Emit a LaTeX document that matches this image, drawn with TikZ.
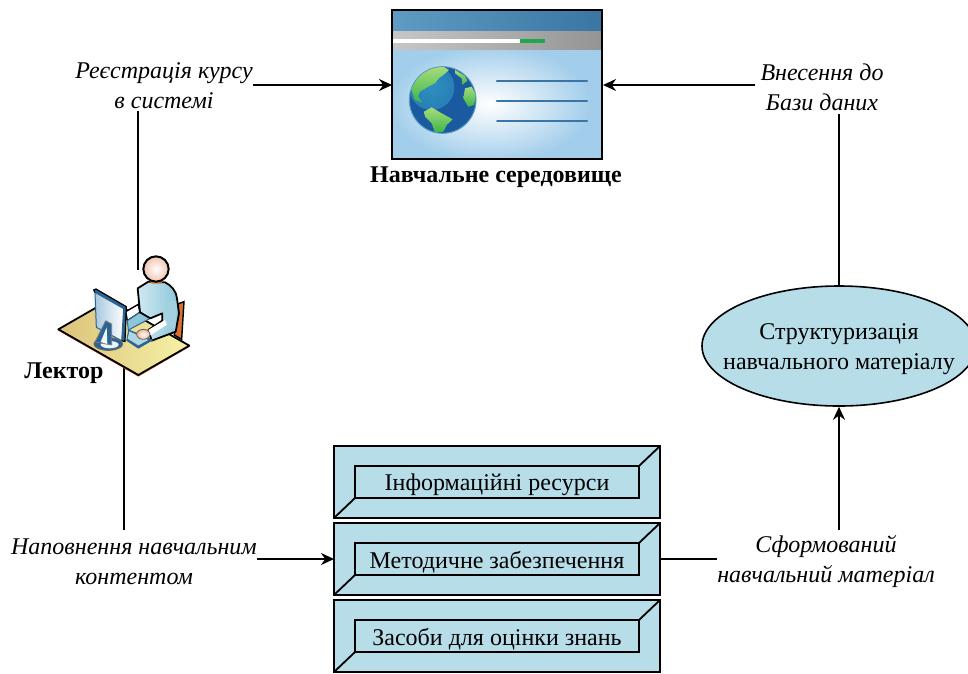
\documentclass[tikz,border=0pt]{standalone}
\usepackage{fontspec}
\setmainfont{Liberation Serif}
\usetikzlibrary{arrows.meta,shapes.geometric,calc}
\definecolor{fillblue}{HTML}{B7DDE8}
\definecolor{barblue}{HTML}{3B75A3}
\definecolor{barblueL}{HTML}{5E9CC3}
\definecolor{skyblue}{HTML}{A3CEEB}
\definecolor{oceanblue}{HTML}{1A5AA0}
\definecolor{teal2}{HTML}{2E8FBF}
\definecolor{landgreen}{HTML}{A6DC7C}
\definecolor{landdark}{HTML}{3DB54A}
\definecolor{deskL}{HTML}{DCC27A}
\definecolor{deskR}{HTML}{F6F2A6}
\definecolor{shirtL}{HTML}{CFE9F2}
\definecolor{shirtD}{HTML}{8CC6D8}
\definecolor{monblue}{HTML}{2A6496}
\definecolor{chair}{HTML}{D9702F}
\definecolor{skin}{HTML}{EDB69A}
\definecolor{progress}{HTML}{22A84C}
\tikzset{
  x=1pt,y=-1pt,
  lab/.style={font=\fontsize{24}{30}\selectfont\itshape,align=center,inner sep=0pt},
  plain/.style={font=\fontsize{24}{30}\selectfont,align=center,inner sep=0pt},
  boldlab/.style={font=\fontsize{24}{28}\selectfont\bfseries,inner sep=0pt},
  conn/.style={line width=1.8pt},
  arr/.style={conn,-{Stealth[length=13pt,width=12pt]}},
  bevel/.style={draw=black,line width=1.8pt,fill=fillblue},
  textline/.style={draw=barblue,line width=2.4pt,line cap=round},
  shirt/.style={left color=shirtL,right color=shirtD,draw=black,line width=1.8pt,line join=round},
  landmass/.style={top color=landgreen,bottom color=landdark}
}
\newcommand{\bevelbox}[5]{%
  \path[bevel] (334,#2) rectangle (660,#3);
  \path[bevel] (355,#4) rectangle (639,#5);
  \draw[line width=1.8pt] (334,#3) -- (355,#5) (639,#4) -- (660,#2);
  \coordinate (#1w) at (334,{(#2+#3)/2});
  \coordinate (#1e) at (660,{(#2+#3)/2});
}
\begin{document}
\begin{tikzpicture}
\useasboundingbox (0,0) rectangle (968,673);
\fill[white] (0,0) rectangle (968,673);

% anchors
\coordinate (envw) at (392,85);
\coordinate (enve) at (603,85);
\coordinate (lectop) at (138,270);
\coordinate (lecbot) at (124,365);

% labels
\node[lab] (reg) at (164,86) {Реєстрація курсу\\в системі};
\node[lab,inner xsep=5pt] (db) at (822,87) {Внесення до\\Бази даних};
\node[lab] (fill) at (134,562) {Наповнення навчальним\\контентом};
\node[lab] (formed) at (826,562) {Сформований\\навчальний матеріал};
\node[boldlab] (envlab) at (496,177) {Навчальне середовище};
\node[boldlab] (leclab) at (64,373) {Лектор};

% ellipse
\node[ellipse,draw=black,line width=1.6pt,fill=fillblue,minimum width=274pt,minimum height=120pt,inner sep=0pt] (st) at (839,346) {};
\node[plain] (sttext) at (839,349) {Структуризація\\навчального матеріалу};

% boxes
\bevelbox{bA}{446}{518}{466}{498}
\bevelbox{bB}{523}{595}{543}{575}
\bevelbox{bC}{600}{672}{620}{652}
\node[plain] (tA) at (497,485) {Інформаційні ресурси};
\node[plain] (tB) at (497,562) {Методичне забезпечення};
\node[plain] (tC) at (497,639) {Засоби для оцінки знань};

% connectors
\draw[arr] (reg.east |- envw) -- (envw);
\draw[arr] (db.west |- enve) -- (enve);
\draw[conn] ([yshift=-2pt]lectop |- reg.south) -- (lectop);
\draw[conn] (lecbot) -- ([yshift=9pt]lecbot |- fill.north);
\draw[arr] (fill.east |- bBw) -- (bBw);
\draw[conn] (bBe) -- (formed.west |- bBe);
\draw[arr] ([yshift=6pt]st.south |- formed.north) -- (st.south);
\draw[conn] (st.north) -- ([yshift=-3pt]st.north |- db.south);

% window
\shade[left color=barblueL,right color=barblue] (392,10) rectangle (602,31);
\shade[left color=black!22,right color=black!42] (392,31) rectangle (602,50);
\fill[white] (392,39) rectangle (520,43);
\fill[progress] (520,39) rectangle (545,43);
\fill[skyblue] (392,50) rectangle (602,159);
\begin{scope}
  \clip (392,50) rectangle (602,159);
  \shade[inner color=white,outer color=skyblue] (490,104) ellipse (100 and 58);
\end{scope}
\draw[line width=1.8pt] (392,10) rectangle (602,159);
\draw[textline] (497,81) -- (587,81);
\draw[textline] (497,101) -- (587,101);
\draw[textline,line width=2pt] (497,120.5) -- (587,120.5);

% globe, in the coordinates of a 3x crop
\begin{scope}[shift={(400,60)},x=0.3333pt,y=-0.3333pt]
  \fill[oceanblue] (128,120) circle (100);
  \draw[shirtD!60!oceanblue,line width=1pt] (128,120) circle (100);
  \begin{scope}
    \clip (128,120) circle (99);
    \shade[inner color=teal2,outer color=teal2!70!oceanblue] (95,82) circle (68);
    \shade[landmass] (33,85) .. controls (45,50) and (85,20) .. (130,20) -- (147,30) -- (130,45) -- (116,55) -- (105,70) -- (85,80) -- (60,95) -- (54,108) -- (66,128) -- (45,120) -- cycle;
    \shade[landmass] (72,155) -- (95,142) -- (125,160) -- (158,178) -- (140,195) -- (130,215) -- (105,218) -- (95,190) -- (75,170) -- cycle;
    \shade[landmass] (195,85) -- (215,80) -- (228,105) -- (222,135) -- (205,140) -- (190,115) -- cycle;
    \shade[landmass] (165,30) -- (195,48) -- (202,62) -- (187,75) -- (185,55) -- (165,40) -- cycle;
  \end{scope}
\end{scope}

% lecturer, in the coordinates of a 3x crop
\begin{scope}[shift={(85,250)},x=0.3333pt,y=-0.3333pt]
  % chair
  \fill[chair,draw=black,line width=1.4pt] (278,162) -- (297,155) -- (290,268) -- (268,255) -- cycle;
  % desk
  \fill[chair] (-80,242) -- (160,380) -- (313,291) -- (313,287) -- (160,375) -- (-80,238) -- cycle;
  \shade[left color=deskL,right color=deskR,draw=black,line width=1.8pt,line join=round]
    (-80,238) -- (73,150) -- (313,287) -- (160,375) -- cycle;
  % left arm
  \fill[white,draw=black,line width=1.4pt,line join=round] (122,185) -- (160,163) -- (165,187) -- (127,212) -- cycle;
  \fill[shirtD,draw=monblue,line width=1pt,line join=round] (127,212) -- (165,187) -- (196,205) -- (130,240) -- cycle;
  % torso and right arm
  \shade[shirt] (158,115) -- (190,95) -- (240,97) .. controls (258,105) and (275,125) .. (276,145)
    -- (282,190) -- (272,245) -- (200,272) -- (190,240) -- (232,212) -- (232,190) -- (196,205) -- (165,187) -- cycle;
  \fill[shirtD!80!white] (240,180) .. controls (250,140) and (272,140) .. (276,170) -- (270,238) -- (248,222) -- cycle;
  \fill[white] (190,240) -- (240,210) -- (246,224) -- (196,256) -- cycle;
  % keyboard
  \fill[monblue] (130,238) -- (205,270) -- (160,296) -- (124,272) -- cycle;
  \fill[shirtD!70!white] (133,244) -- (190,270) -- (160,286) -- (128,266) -- cycle;
  % hand
  \shade[inner color=white,outer color=skin,draw=black!60,line width=0.8pt] (175,253) ellipse (20 and 15);
  % head
  \fill[chair] (192,90) -- (236,90) -- (228,101) -- (200,101) -- cycle;
  \shade[inner color=white,outer color=skin!80!white,draw=black,line width=2pt] (213,57) circle (38);
  % monitor
  \fill[monblue,draw=black,line width=1.2pt,line join=round] (26,120) -- (33,117) -- (124,170) -- (120,275) -- (110,272) -- cycle;
  \shade[left color=barblueL!55!white,right color=white,draw=monblue,line width=1pt,line join=round] (30,127) -- (116,176) -- (110,272) -- (34,232) -- cycle;
  % stand
  \fill[monblue,draw=black!60,line width=1pt] (70,282) ellipse (43 and 19);
  \fill[white!70!fillblue] (74,284) ellipse (27 and 11);
  \fill[monblue,draw=black!50,line width=0.8pt,line join=round] (62,212) -- (80,222) -- (80,285) -- (30,276) -- cycle;
  \fill[white!75!fillblue] (65,232) -- (67,282) -- (47,276) -- cycle;
\end{scope}
\end{tikzpicture}
\end{document}
